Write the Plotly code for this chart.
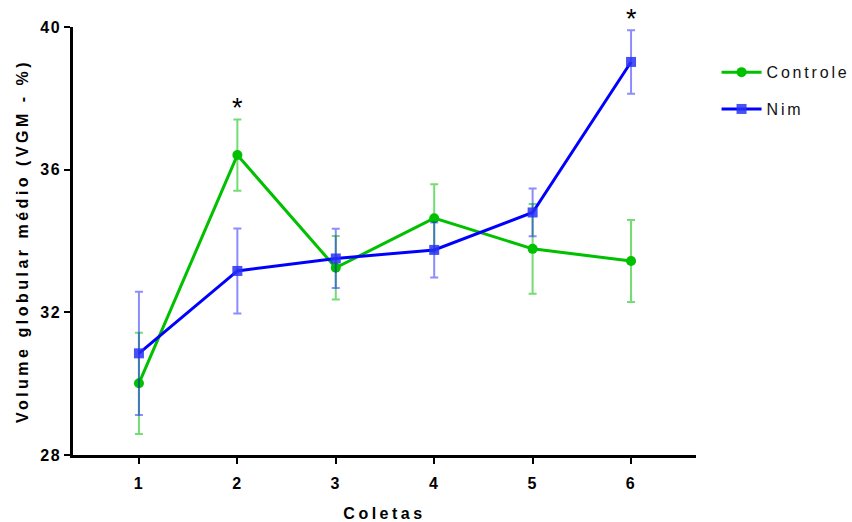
import plotly.graph_objects as go

coletas = [1, 2, 3, 4, 5, 6]
tick_labels = ["1", "2", "3", "4", "5", "6"]
controle = [30.01, 36.41, 33.25, 34.64, 33.78, 33.44]
controle_err = [1.42, 1.00, 0.89, 0.95, 1.26, 1.15]
nim = [30.85, 33.16, 33.51, 33.75, 34.80, 39.02]
nim_err = [1.73, 1.19, 0.83, 0.77, 0.67, 0.89]
y_ticks = [28, 32, 36, 40]
signif_x = [2, 6]
signif_label = "*"

GREEN = "rgb(0,192,0)"
BLUE = "rgb(0,0,255)"
FONT = "Liberation Sans, Arial, sans-serif"

fig = go.Figure()
fig.add_trace(go.Scatter(
    x=coletas, y=controle, name="Controle", mode="lines+markers",
    line=dict(color=GREEN, width=3),
    marker=dict(symbol="circle", size=10, color=GREEN),
    error_y=dict(type="data", array=controle_err, visible=True,
                 color="rgba(0,192,0,0.55)", thickness=2, width=4),
    legendgroup="a",
))
fig.add_trace(go.Scatter(
    x=coletas, y=nim, name="Nim", mode="lines+markers",
    line=dict(color=BLUE, width=3),
    marker=dict(symbol="square", size=10, color="rgba(40,50,245,0.85)"),
    error_y=dict(type="data", array=nim_err, visible=True,
                 color="rgba(0,0,255,0.45)", thickness=2, width=4),
    legendgroup="b",
))

tops = {}
for i, x in enumerate(coletas):
    tops[x] = max(controle[i] + controle_err[i], nim[i] + nim_err[i])
for x in signif_x:
    fig.add_annotation(x=x, y=tops[x], text=signif_label, showarrow=False,
                       yanchor="bottom", yshift=-6,
                       font=dict(family=FONT, size=27, color="black"))

fig.update_layout(
    width=852, height=522,
    margin=dict(l=73, r=156, t=27, b=67, autoexpand=False),
    paper_bgcolor="white", plot_bgcolor="white",
    font=dict(family=FONT, color="black"),
    showlegend=True,
    legend=dict(x=1.033, y=0.934, xanchor="left", yanchor="top",
                font=dict(family=FONT, size=16, color="#111"),
                tracegroupgap=13, itemwidth=40),
)
fig.update_xaxes(
    range=[0.33, 6.66], tickmode="array", tickvals=coletas, ticktext=tick_labels,
    showline=True, linecolor="black", linewidth=2.5, showgrid=False, zeroline=False,
    ticks="outside", ticklen=6, tickwidth=2, tickcolor="black",
    tickfont=dict(family=FONT, size=16, weight="bold"), ticklabelstandoff=6,
    title=dict(text="Coletas", font=dict(family=FONT, size=16, weight="bold"), standoff=24),
)
fig.update_yaxes(
    range=[28, 40], tickmode="array", tickvals=y_ticks,
    showline=True, linecolor="black", linewidth=2.5, showgrid=False, zeroline=False,
    ticks="outside", ticklen=6, tickwidth=2, tickcolor="black",
    tickfont=dict(family=FONT, size=16, weight="bold"),
    title=dict(text="Volume globular médio (VGM - %)",
               font=dict(family=FONT, size=16, weight="bold"), standoff=11),
)

css = """
var s=document.createElement('style');
s.innerHTML='html,body{margin:0 !important;padding:0 !important;} .xtitle,.ytitle{letter-spacing:3.5px !important;} .legendtext{letter-spacing:2.8px !important;} .xtick text,.ytick text{letter-spacing:1.5px !important;} .legend .scrollbox{clip-path:none !important;}';
document.head.appendChild(s);
"""
fig.write_html("out.html", post_script=css, config={"displayModeBar": False})
